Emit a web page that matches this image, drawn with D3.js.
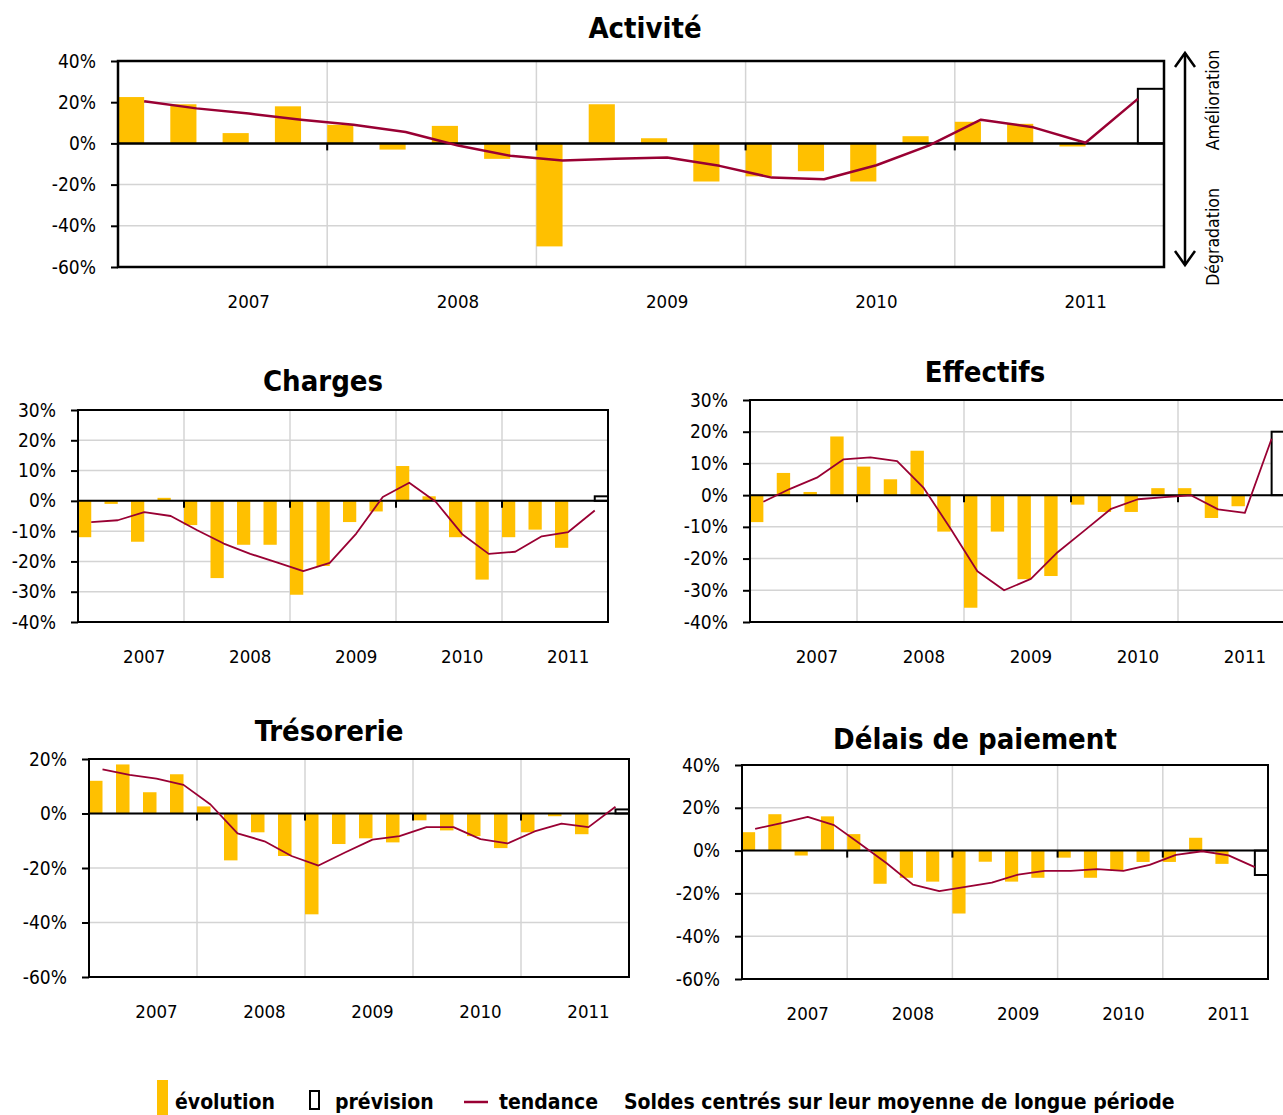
<!DOCTYPE html>
<html>
<head>
<meta charset="utf-8">
<script src="https://cdn.jsdelivr.net/npm/d3@7"></script>
<style>
  html, body { margin: 0; padding: 0; background: #fff; }
  svg text { font-family: "DejaVu Sans Condensed", "DejaVu Sans", sans-serif; fill: #000; }
</style>
</head>
<body>
<svg id="chart" width="1283" height="1115"></svg>
<script>
// ---------- DATA ----------
const categories = ["", "", "2007", "", "", "", "2008", "", "", "", "2009", "", "", "", "2010", "", "", "", "2011", ""];

const activiteEvolution = [22.5, 19, 5, 18, 9, -3, 8.5, -7.5, -50, 19, 2.5, -18.5, -16, -13.5, -18.5, 3.5, 10.5, 9.5, -1.5, null];
const activitePrevision = [null, null, null, null, null, null, null, null, null, null, null, null, null, null, null, null, null, null, null, 26.5];
const activiteTendance = [20.5, 17, 14.5, 11.5, 9, 5.5, -1, -6, -8.3, -7.5, -6.8, -10.9, -16.6, -17.4, -10.6, -1.1, 11.5, 7.8, 0.3, 21.6];

const chargesEvolution = [-12, -1, -13.5, 1, -8, -25.5, -14.5, -14.5, -31, -21.5, -7, -3.5, 11.5, 1.5, -12, -26, -12, -9.5, -15.5, null];
const chargesPrevision = [null, null, null, null, null, null, null, null, null, null, null, null, null, null, null, null, null, null, null, 1.5];
const chargesTendance = [-7, -6.4, -3.7, -5, -9.7, -14.1, -17.5, -20.3, -23.2, -20.5, -10.8, 1.3, 6, -0.3, -11, -17.5, -16.8, -11.7, -10.3, -3.2];

const effectifsEvolution = [-8.5, 7, 1, 18.5, 9, 5, 14, -11.5, -35.5, -11.5, -26.5, -25.5, -3, -5.3, -5.3, 2.2, 2.2, -7.2, -3.5, null];
const effectifsPrevision = [null, null, null, null, null, null, null, null, null, null, null, null, null, null, null, null, null, null, null, 20];
const effectifsTendance = [-2.1, 2, 5.5, 11.3, 11.9, 10.7, 2.2, -10.6, -24, -30, -26.4, -18, -11.2, -4.3, -1.3, -0.6, -0.1, -4.5, -5.6, 17.8];

const tresorerieEvolution = [12, 18, 7.8, 14.4, 2.6, -17.2, -6.9, -15.6, -37, -11.2, -9.1, -10.6, -2.5, -6.2, -8.3, -12.7, -6.9, -1, -7.6, null];
const tresoreriePrevision = [null, null, null, null, null, null, null, null, null, null, null, null, null, null, null, null, null, null, null, 1.5];
const tresorerieTendance = [16.2, 14.2, 12.8, 10.5, 3.3, -7.3, -10.2, -15.6, -19.1, -14.2, -9.6, -8.3, -5, -5, -9.4, -11, -6.6, -3.7, -5, 2.5];

const delaisEvolution = [8.6, 17, -2.3, 16, 7.7, -15.5, -12.7, -14.5, -29.4, -5.2, -14.5, -12.7, -3.3, -12.7, -9.5, -5.3, -5.3, 6, -6.2, null];
const delaisPrevision = [null, null, null, null, null, null, null, null, null, null, null, null, null, null, null, null, null, null, null, -11.4];
const delaisTendance = [10.2, 12.8, 15.8, 11.9, 3.1, -5.9, -15.9, -18.9, -16.9, -15, -11.2, -9.5, -9.5, -8.7, -9.5, -6.7, -2, -0.3, -2.2, -7.7];

const legendLabels = ["évolution", "prévision", "tendance"];
const noteText = "Soldes centrés sur leur moyenne de longue période";

// ---------- STYLE ----------
const BAR = "#FFC000";
const LINE = "#990033";
const GRID = "#d4d4d4";
const FONT = '"DejaVu Sans Condensed", "DejaVu Sans", sans-serif';

const svg = d3.select("#chart");

function panel(cfg) {
  const g = svg.append("g");
  const idx = d3.range(categories.length);
  const x = d3.scaleBand().domain(idx).range([cfg.left, cfg.right]).padding(0);
  const y = d3.scaleLinear().domain(cfg.domain).range([cfg.bottom, cfg.top]);
  const bw = x.bandwidth();
  const ticks = d3.range(cfg.domain[0], cfg.domain[1] + 0.001, cfg.step);

  // horizontal gridlines
  g.selectAll(".hg").data(ticks).join("line")
    .attr("x1", cfg.left).attr("x2", cfg.right)
    .attr("y1", d => y(d)).attr("y2", d => y(d))
    .attr("stroke", GRID).attr("stroke-width", 1.5);
  // vertical gridlines at year boundaries
  const bounds = [4, 8, 12, 16];
  g.selectAll(".vg").data(bounds).join("line")
    .attr("x1", d => x(d)).attr("x2", d => x(d))
    .attr("y1", cfg.top).attr("y2", cfg.bottom)
    .attr("stroke", GRID).attr("stroke-width", 1.5);

  // evolution bars
  g.selectAll(".bar").data(idx.filter(i => cfg.evo[i] != null)).join("rect")
    .attr("x", i => x(i))
    .attr("width", bw / 2)
    .attr("y", i => y(Math.max(0, cfg.evo[i])))
    .attr("height", i => Math.abs(y(cfg.evo[i]) - y(0)))
    .attr("fill", BAR);

  // prevision bars
  g.selectAll(".prev").data(idx.filter(i => cfg.prev[i] != null)).join("rect")
    .attr("x", i => x(i) + bw / 2)
    .attr("width", bw / 2)
    .attr("y", i => y(Math.max(0, cfg.prev[i])))
    .attr("height", i => Math.abs(y(cfg.prev[i]) - y(0)))
    .attr("fill", "#fff").attr("stroke", "#000").attr("stroke-width", 2);

  // zero axis with ticks
  g.append("line").attr("x1", cfg.left).attr("x2", cfg.right)
    .attr("y1", y(0)).attr("y2", y(0)).attr("stroke", "#000").attr("stroke-width", cfg.lw);
  g.selectAll(".zt").data([0, 4, 8, 12, 16]).join("line")
    .attr("x1", d => x(d)).attr("x2", d => x(d))
    .attr("y1", y(0)).attr("y2", y(0) + 7)
    .attr("stroke", "#000").attr("stroke-width", 2);

  // trend line
  const line = d3.line().x((d, i) => x(i) + bw / 2).y(d => y(d)).curve(d3.curveLinear);
  g.append("path").datum(cfg.trend).attr("d", line)
    .attr("fill", "none").attr("stroke", LINE).attr("stroke-width", cfg.tw)
    .attr("stroke-linejoin", "round");

  // border
  g.append("rect").attr("x", cfg.left).attr("y", cfg.top)
    .attr("width", cfg.right - cfg.left).attr("height", cfg.bottom - cfg.top)
    .attr("fill", "none").attr("stroke", "#000").attr("stroke-width", cfg.lw);

  // y axis
  const ya = g.append("g").attr("transform", `translate(${cfg.left},0)`)
    .call(d3.axisLeft(y).tickValues(ticks).tickSize(7).tickPadding(15).tickFormat(d => d + "%"));
  ya.select(".domain").remove();
  ya.selectAll(".tick line").attr("stroke", "#000").attr("stroke-width", 2);
  ya.selectAll("text").attr("font-size", 19).style("font-family", FONT);

  // x axis labels
  const xa = g.append("g").attr("transform", `translate(0,${cfg.bottom})`)
    .call(d3.axisBottom(x).tickSize(0).tickPadding(28).tickFormat(i => categories[i]));
  xa.select(".domain").remove();
  xa.selectAll("text").attr("font-size", 18.5).style("font-family", FONT);

  // title
  g.append("text").attr("x", cfg.tx).attr("y", cfg.ty).attr("text-anchor", "middle")
    .attr("font-size", 29).attr("font-weight", "bold").text(cfg.title);
  return { x, y };
}

panel({ title: "Activité", left: 118, right: 1164, top: 61, bottom: 267, domain: [-60, 40], step: 20,
  evo: activiteEvolution, prev: activitePrevision, trend: activiteTendance, tx: 645, ty: 38, lw: 2.5, tw: 2.5 });
panel({ title: "Charges", left: 78, right: 608, top: 410, bottom: 622, domain: [-40, 30], step: 10,
  evo: chargesEvolution, prev: chargesPrevision, trend: chargesTendance, tx: 323, ty: 391, lw: 2, tw: 1.8 });
panel({ title: "Effectifs", left: 750, right: 1285, top: 400, bottom: 622, domain: [-40, 30], step: 10,
  evo: effectifsEvolution, prev: effectifsPrevision, trend: effectifsTendance, tx: 985, ty: 382, lw: 2, tw: 1.8 });
panel({ title: "Trésorerie", left: 89, right: 629, top: 759, bottom: 977, domain: [-60, 20], step: 20,
  evo: tresorerieEvolution, prev: tresoreriePrevision, trend: tresorerieTendance, tx: 329, ty: 741, lw: 2, tw: 1.8 });
panel({ title: "Délais de paiement", left: 742, right: 1268, top: 765, bottom: 979, domain: [-60, 40], step: 20,
  evo: delaisEvolution, prev: delaisPrevision, trend: delaisTendance, tx: 975, ty: 749, lw: 2, tw: 1.8 });

// Amélioration / Dégradation arrow
const ax = 1185;
const arr = svg.append("g").attr("stroke", "#000").attr("stroke-width", 2.5).attr("fill", "none");
arr.append("line").attr("x1", ax).attr("x2", ax).attr("y1", 53).attr("y2", 265);
arr.append("path").attr("d", `M${ax - 10},${67} L${ax},${53} L${ax + 10},${67}`);
arr.append("path").attr("d", `M${ax - 10},${251} L${ax},${265} L${ax + 10},${251}`);
svg.append("text").attr("transform", `translate(1219,100) rotate(-90)`).attr("text-anchor", "middle")
  .attr("font-size", 17.5).text("Amélioration");
svg.append("text").attr("transform", `translate(1219,237) rotate(-90)`).attr("text-anchor", "middle")
  .attr("font-size", 17.5).text("Dégradation");

// Legend
const lg = svg.append("g").attr("font-size", 21).attr("font-weight", "bold");
lg.append("rect").attr("x", 157).attr("y", 1080).attr("width", 11).attr("height", 40).attr("fill", BAR);
lg.append("text").attr("x", 175).attr("y", 1109).text(legendLabels[0]);
lg.append("rect").attr("x", 310).attr("y", 1091).attr("width", 9).attr("height", 18)
  .attr("fill", "#fff").attr("stroke", "#000").attr("stroke-width", 2);
lg.append("text").attr("x", 335).attr("y", 1109).text(legendLabels[1]);
lg.append("line").attr("x1", 464).attr("x2", 488).attr("y1", 1102).attr("y2", 1102)
  .attr("stroke", LINE).attr("stroke-width", 2.5);
lg.append("text").attr("x", 499).attr("y", 1109).text(legendLabels[2]);
lg.append("text").attr("x", 624).attr("y", 1109).text(noteText);
</script>
</body>
</html>
